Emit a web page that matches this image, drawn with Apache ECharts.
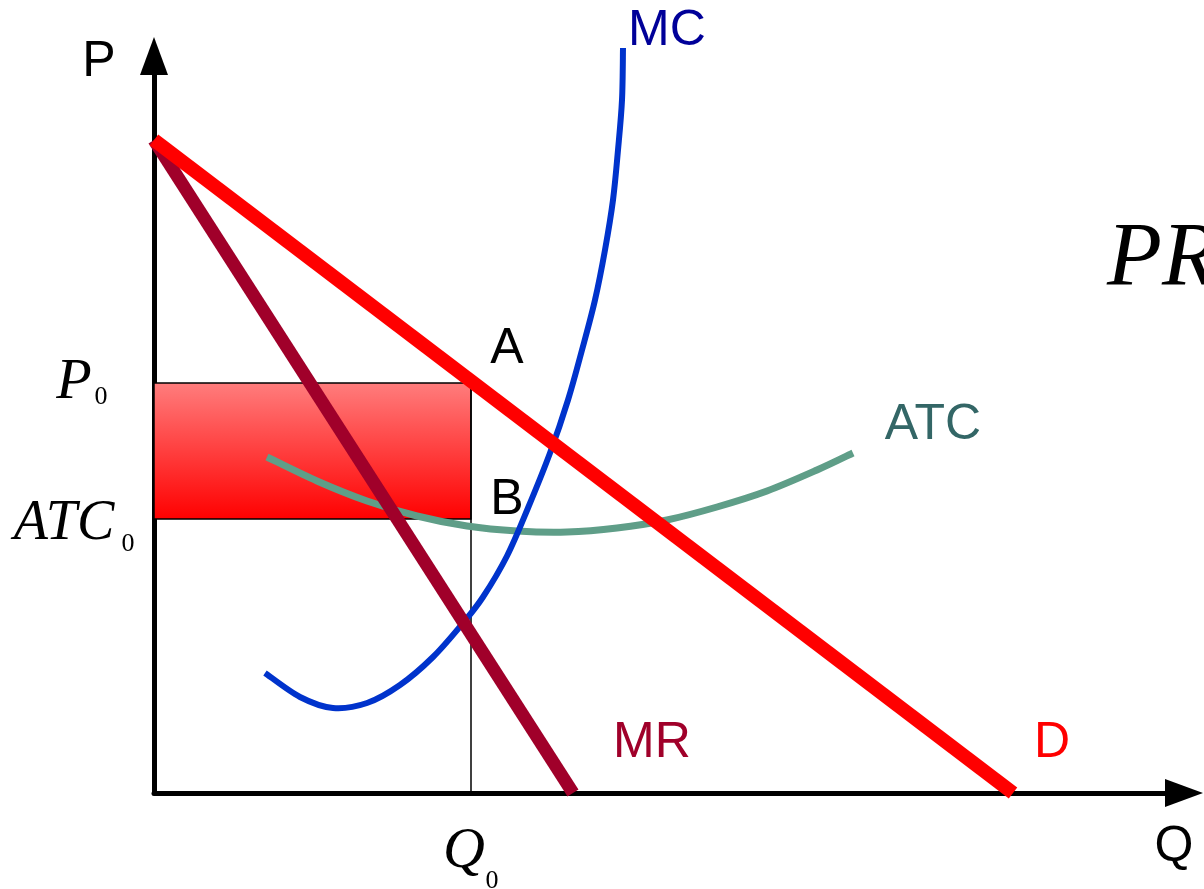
<!DOCTYPE html>
<html>
<head>
<meta charset="utf-8">
<script src="https://cdn.jsdelivr.net/npm/echarts@6/dist/echarts.min.js"></script>
<style>
html,body{margin:0;padding:0;background:#fff;}
#chart{width:1204px;height:889px;}
</style>
</head>
<body>
<div id="chart"></div>
<script>
// Quantity / price data (abstract units: origin at the axis corner)
const demandQ = [0, 859];
const demandP = [653, 0];
const mrQ = [0, 419];
const mrP = [653, 0];
const mcQ = [111, 146, 179, 213, 246, 279, 309, 329, 353, 374, 396, 414, 428, 441, 451, 459, 464, 468, 469];
const mcP = [120, 96, 85, 90, 108, 136, 170, 196, 237, 285, 340, 393, 443, 493, 543, 593, 643, 693, 745];
const atcQ = [113, 163, 213, 263, 313, 363, 413, 463, 513, 563, 613, 663, 699];
const atcP = [336, 312, 292, 277, 267, 262, 261, 265, 273, 286, 302, 323, 340];
const q0 = 317;
const p0 = 410;
const atc0 = 274;

const zip = (a, b) => a.map((v, i) => [v, b[i]]);

const chart = echarts.init(document.getElementById('chart'));
const sans = '"Liberation Sans", Arial, sans-serif';
const serif = '"Liberation Serif", "Times New Roman", serif';

function txt(text, x, y, font, fill, align) {
  return {
    type: 'text', x: x, y: y, z: 100,
    style: { text: text, font: font, fill: fill, align: align || 'center', verticalAlign: 'middle' }
  };
}

// Smooth curve through the data points (Catmull-Rom drawn as cubic Beziers), positioned by the axes
function curveSeries(qs, ps, color, width, z) {
  return {
    type: 'custom', z: z, clip: false,
    data: [[qs[0], ps[0]]],
    renderItem: function (params, api) {
      const pts = qs.map((q, i) => api.coord([q, ps[i]]));
      let d = 'M' + pts[0][0] + ',' + pts[0][1];
      for (let i = 0; i < pts.length - 1; i++) {
        const a = pts[i - 1] || pts[i];
        const b = pts[i];
        const c = pts[i + 1];
        const e = pts[i + 2] || c;
        const c1x = b[0] + (c[0] - a[0]) / 6, c1y = b[1] + (c[1] - a[1]) / 6;
        const c2x = c[0] - (e[0] - b[0]) / 6, c2y = c[1] - (e[1] - b[1]) / 6;
        d += ' C' + c1x + ',' + c1y + ' ' + c2x + ',' + c2y + ' ' + c[0] + ',' + c[1];
      }
      return {
        type: 'path',
        shape: { pathData: d },
        style: { fill: 'none', stroke: color, lineWidth: width, lineCap: 'butt' }
      };
    }
  };
}

const axisCommon = {
  type: 'value',
  min: 0,
  axisLine: { show: true, onZero: false, symbol: ['none', 'triangle'], symbolSize: [28, 38], lineStyle: { color: '#000', width: 5 } },
  axisTick: { show: false },
  axisLabel: { show: false },
  splitLine: { show: false }
};

const option = {
  animation: false,
  backgroundColor: '#fff',
  grid: { left: 154, right: 20, top: 56, bottom: 96 },
  xAxis: Object.assign({}, axisCommon, { max: 1030 }),
  yAxis: Object.assign({}, axisCommon, { max: 737 }),
  series: [
    {
      type: 'custom',
      z: 1,
      data: [[q0, p0, atc0]],
      renderItem: function (params, api) {
        const a = api.coord([0, api.value(1)]);
        const b = api.coord([api.value(0), api.value(2)]);
        return {
          type: 'rect',
          shape: { x: a[0], y: a[1], width: b[0] - a[0], height: b[1] - a[1] },
          style: {
            fill: new echarts.graphic.LinearGradient(0, 0, 0, 1, [
              { offset: 0, color: '#ff7d7d' },
              { offset: 1, color: '#ff0000' }
            ]),
            stroke: '#000',
            lineWidth: 1.5
          }
        };
      }
    },
    {
      type: 'line', z: 2, symbol: 'none', clip: false,
      data: [[q0, 0], [q0, p0]],
      lineStyle: { color: '#000', width: 1.5 }
    },
    curveSeries(atcQ, atcP, '#5f9e88', 7, 3),
    curveSeries(mcQ, mcP, '#0033cc', 6, 4),
    {
      type: 'line', z: 5, symbol: 'none', clip: false,
      data: zip(mrQ, mrP),
      lineStyle: { color: '#a0002a', width: 13 }
    },
    {
      type: 'line', z: 6, symbol: 'none', clip: false,
      data: zip(demandQ, demandP),
      lineStyle: { color: '#ff0000', width: 14 }
    }
  ],
  graphic: [
    txt('P', 99, 62, '50px ' + sans, '#000'),
    txt('Q', 1174, 847, '50px ' + sans, '#000'),
    txt('MC', 667, 31, '50px ' + sans, '#000099'),
    txt('A', 507, 349, '50px ' + sans, '#000'),
    txt('B', 507, 500, '50px ' + sans, '#000'),
    txt('ATC', 933, 425, '50px ' + sans, '#336666'),
    txt('MR', 652, 743, '50px ' + sans, '#a0002a'),
    txt('D', 1052, 743, '50px ' + sans, '#ff0000'),
    txt('P', 74, 383, 'italic 58px ' + serif, '#000'),
    txt('0', 101, 397, '26px ' + serif, '#000'),
    txt('ATC', 64, 524, 'italic 56px ' + serif, '#000'),
    txt('0', 128, 544, '26px ' + serif, '#000'),
    txt('Q', 464, 852, 'italic 58px ' + serif, '#000'),
    txt('0', 492, 881, '26px ' + serif, '#000'),
    txt('PR', 1107, 261, 'italic 90px ' + serif, '#000', 'left')
  ]
};
chart.setOption(option);
</script>
</body>
</html>
